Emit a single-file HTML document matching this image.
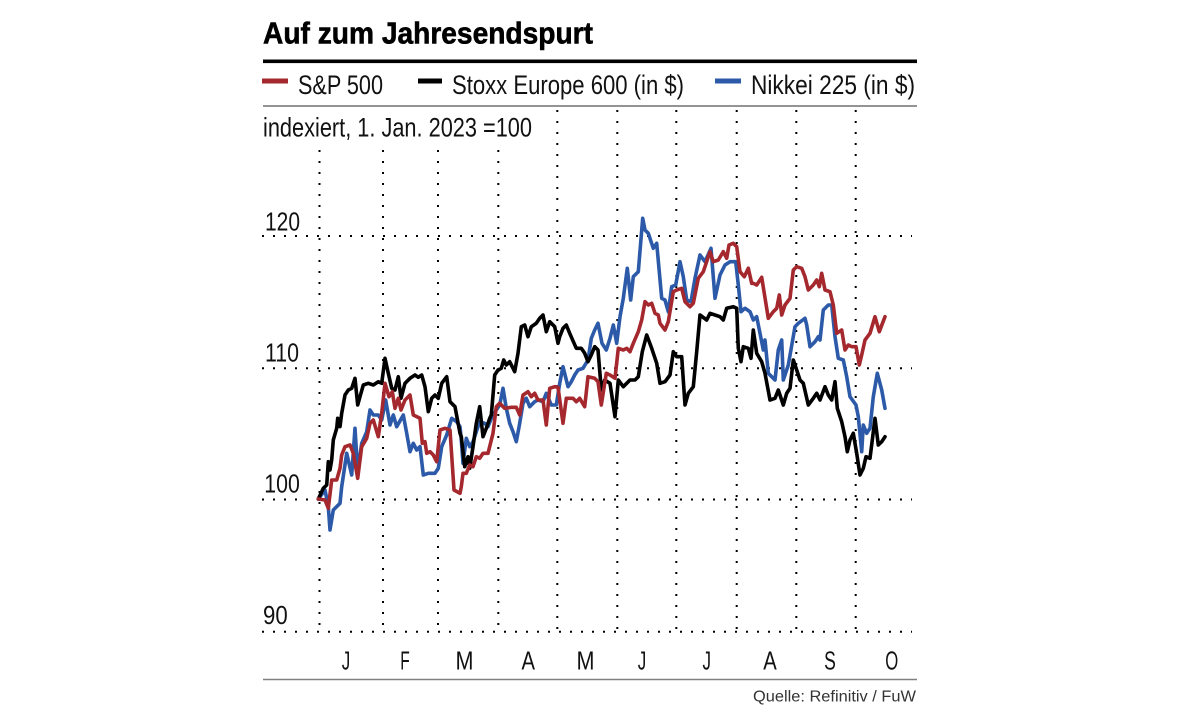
<!DOCTYPE html>
<html>
<head>
<meta charset="utf-8">
<style>
html,body{margin:0;padding:0;background:#fff;}
svg{display:block;}
text{font-family:"Liberation Sans Narrow","Liberation Sans",sans-serif;}
</style>
</head>
<body>
<svg width="1179" height="713" viewBox="0 0 1179 713" xmlns="http://www.w3.org/2000/svg">
<rect width="1179" height="713" fill="#fff"/>
<!-- Title -->
<text x="263" y="43.3" font-size="31" font-weight="bold" fill="#000" stroke="#000" stroke-width="0.6" textLength="330" lengthAdjust="spacingAndGlyphs">Auf zum Jahresendspurt</text>
<rect x="263" y="59.5" width="654" height="3.6" fill="#000"/>
<!-- Legend -->
<rect x="262" y="78.5" width="26" height="5" fill="#a4282e"/>
<text x="298" y="94" font-size="27" fill="#111" textLength="85" lengthAdjust="spacingAndGlyphs">S&amp;P 500</text>
<rect x="418" y="78.5" width="24" height="5" fill="#000"/>
<text x="452" y="94" font-size="27" fill="#111" textLength="232" lengthAdjust="spacingAndGlyphs">Stoxx Europe 600 (in $)</text>
<rect x="715" y="78.5" width="26" height="5" fill="#2c5aa8"/>
<text x="751" y="94" font-size="27" fill="#111" textLength="164" lengthAdjust="spacingAndGlyphs">Nikkei 225 (in $)</text>
<line x1="263" y1="106" x2="917" y2="106" stroke="#555" stroke-width="1.2"/>
<text x="263" y="136.7" font-size="26.5" fill="#111" textLength="269" lengthAdjust="spacingAndGlyphs">indexiert, 1. Jan. 2023 =100</text>

<!-- Grid: vertical dotted -->
<g stroke="#000" stroke-width="2" stroke-dasharray="2 9" fill="none">
<line x1="319.5" y1="150" x2="319.5" y2="632"/>
<line x1="383" y1="150" x2="383" y2="632"/>
<line x1="438" y1="150" x2="438" y2="632"/>
<line x1="498.3" y1="150" x2="498.3" y2="632"/>
<line x1="557.3" y1="110" x2="557.3" y2="632"/>
<line x1="617.3" y1="110" x2="617.3" y2="632"/>
<line x1="676.3" y1="110" x2="676.3" y2="632"/>
<line x1="736.7" y1="110" x2="736.7" y2="632"/>
<line x1="796.3" y1="110" x2="796.3" y2="632"/>
<line x1="855.7" y1="110" x2="855.7" y2="632"/>
</g>
<!-- Grid: horizontal dotted -->
<g stroke="#000" stroke-width="2" stroke-dasharray="2 9" fill="none">
<line x1="262" y1="236" x2="912" y2="236"/>
<line x1="262" y1="368.3" x2="912" y2="368.3"/>
<line x1="262" y1="499.5" x2="912" y2="499.5"/>
<line x1="262" y1="631.7" x2="912" y2="631.7"/>
</g>

<!-- Y labels -->
<g font-size="26" fill="#111">
<text x="265" y="230.7" textLength="35" lengthAdjust="spacingAndGlyphs">120</text>
<text x="265" y="361.7" textLength="34" lengthAdjust="spacingAndGlyphs">110</text>
<text x="264.3" y="492.7" textLength="35.5" lengthAdjust="spacingAndGlyphs">100</text>
<text x="263" y="624" textLength="24.7" lengthAdjust="spacingAndGlyphs">90</text>
</g>

<!-- Series -->
<g fill="none" stroke-width="3.6" stroke-linejoin="round" stroke-linecap="round">
<polyline stroke="#2c5aa8" points="318.3,499 325,490 328.3,506.7 330,530 333.3,510 340,503.3 341.7,486.7 346.7,453.3 351.7,475 355,428.3 357.7,471.7 361.7,443.3 366.7,431.7 370,410 373.3,415 378.3,415 381.7,420 385.7,400 390,425 393.3,415 396.7,426.7 403.3,415 406.7,433.3 410,451.7 413.3,443.3 416.7,450 420,446.7 423.3,475 428.3,473.3 435,473.3 438.3,468.3 441.7,446.7 446.7,435 451.7,418.3 456.7,421.7 460,426.7 461.3,440 463,463.3 466.3,438.3 469.7,446.7 473,441.7 479.7,421.7 484.7,423.3 488,426.7 491.3,418.3 496.3,410 499.7,405 503,388.3 506.3,408.3 509.7,423.3 513,431.7 516.3,441.7 519.7,423.3 523,403.3 526.3,398.3 529.7,406.7 534.7,401.7 538,400 543,401.7 546.3,393.3 551.3,405 556.3,405 559.7,383.3 563,366.7 568,386.7 571.3,381.7 574.7,375 578,370 583,368.3 588,360 591.3,338.3 594.7,330 598,323.3 602,343.3 606.3,350 610,338.3 613.3,325 616.7,343.3 620,316.7 623.3,298.3 627.3,268.3 630.7,300 633.3,276.7 638.3,271.7 642.7,218.3 645,230 648.3,233.3 653.3,248.3 656.7,243.3 661.7,298.3 665,300 668.3,311.7 671.7,286.7 675.7,285 680,261.7 683.3,276.7 686.7,300 691,301.7 695,278.3 700,255 705,261.7 711,248.3 715,298.3 720,275 725,265 730,261.7 735.7,261.7 738.3,285 741,311.7 745,308.3 750,311.7 753.3,320 756.7,316.7 760,333.3 763.3,350 765,340 768.3,373.3 775,380 778.3,350 781.7,340 783.3,380 788.3,365 795,326.7 798.3,323.3 805,318.3 806.7,325 810,346.7 815,341.7 818.3,336.7 820,340 823.3,310 828.3,305 831.7,305 835,336.7 838.3,358.3 843.3,360 846.7,376.7 850,396.7 856,405 858.3,416.7 861.7,451.7 863.3,425 866.7,433.3 870,428.3 873.3,396.7 877.3,373.3 881.7,390 885,408.3"/>
<polyline stroke="#000" points="318.3,499 323.3,488.3 326.7,485 328.3,461.7 330,470 331.7,460 333.3,440 336.7,428.3 337.7,418.3 340,426.7 341.7,413.3 345,395 348.3,390 351.7,388.3 355,378.3 357.7,405 360,396.7 363.3,385 368.3,383.3 373.3,385 378.3,381.7 381.7,383.3 385,358.3 388.3,373.3 391.7,388.3 395,390 398.3,376.7 401,398.3 405,383.3 410,378.3 415,375 418.3,377.3 421.7,375 425,386.7 428.3,411.7 431.7,398.3 435,395 438.3,398.3 441.7,383.3 446.7,376.7 450,401.7 455,406.7 460,433.3 461.3,436.7 464.7,466.7 468,456.7 469.7,468.3 473,446.7 476.3,423.3 479.7,406.7 483,436.7 486.3,428.3 489.7,418.3 491.3,415 494.7,375 498,370 501.3,368.3 503.7,360 506.3,365 509.7,361.7 514.7,371.7 518,353.3 521.3,326.7 524.7,325 528,336.7 531.3,326.7 536.3,323.3 539.7,318.3 543,315 546.3,331.7 549.7,321.7 554.7,326.7 558,343.3 559.7,336.7 563,328.3 566.3,325 569.7,333.3 576.3,348.3 581.3,348.3 584.7,353.3 588,361.7 591.3,355 594.7,346.7 598,350 601.3,390 604.7,380 610,383.3 615,416.7 618.3,380 623.3,386.7 630,380 635,380 638.3,376.7 642.3,351.7 646.7,335 651.7,348.3 656.7,363.3 660,383.3 665,381.7 670,375 673.3,351.7 676.7,356.7 681.7,356.7 685,405 688.3,393.3 693.3,386.7 696.7,351.7 700,315 706.7,320 710,313.3 715,315 720,316.7 723.3,320 726.7,308.3 733.3,306.7 736.7,308.3 738.3,348.3 741,361.7 743.3,346.7 748.3,348.3 751,358.3 753.3,330 756.7,353.3 761.7,361.7 765,373.3 770,400 775,398.3 778.3,390 783.3,405 786.7,393.3 790,388.3 793.3,360 796.7,370 800,380 803.3,383.3 808.3,405 813.3,398.3 816.7,393.3 820,400 825,386.7 828.3,395 831.7,400 835,381.7 837.3,408.3 841.7,421.7 845,436.7 847.3,451.7 850,440 853.3,433.3 856.7,453.3 860,475 863.3,468.3 866,456.7 870,458.3 875,418.3 878.3,445 881.7,441.7 885,436.7"/>
<polyline stroke="#a4282e" points="318.3,499 325,500 328.3,508.3 331.7,480 336.7,480 340,468.3 341.7,455 345,446.7 350,445 353.3,453.3 357.7,478.3 361.7,446.7 366.7,438.3 370,423.3 373.3,420 378.3,436.7 381.7,413.3 385,383.3 389,396.7 392.3,391.7 395,408.3 398.3,398.3 401,410 405,400 410,395 413.3,415 420,418.3 422.3,443.3 425,441.7 426.7,453.3 430,451.7 433.3,455 436.7,461.7 440,430 445,428.3 450,430 454,490 460,493.3 461.3,486.7 463,473.3 466.3,473.3 469.7,465 473,466.7 476.3,456.7 479.7,458.3 483,453.3 488,453.3 493,433.3 496.3,406.7 499.7,403.3 504.7,408.3 511.3,407.3 516.3,407.3 519.7,415 523,395 528,391.7 531.3,396.7 534.7,393.3 538,400 543,400 546.3,425 549.7,388.3 554.7,386.7 558,387.3 563,423.3 566.3,398.3 573,398.3 576.3,401.7 579.7,398.3 584.7,406.7 588,376.7 594.7,378.3 598,381.7 601.3,405 606.3,373.3 610,375 615,378.3 618.3,348.3 623.3,350 626.7,348.3 630,351.7 633.3,343.3 638.3,331.7 641.7,320 645,301.7 648.3,305 651.7,303.3 655,313.3 658.3,315 660,323.3 665,330 668.3,321.7 673.3,291.7 676.7,290 681.7,288.3 685,301.7 690,306.7 693.3,303.3 698.3,278.3 703.3,271.7 710,251.7 713.3,261.7 718.3,260 723.3,251.7 726.7,258.3 729,245 733.3,243.3 736.7,246.7 740,271.7 744.3,276.7 748.3,268.3 751.7,283.3 753.3,283.3 756.7,285 761.7,277.3 768.3,318.3 773.3,311.7 776.7,308.3 779.3,295 781.7,315 785,305 790,298.3 793.3,270 796.7,266.7 801.7,268.3 805,276.7 808.3,290 813.3,285 816.7,280 819.3,286.7 821.7,273.3 825,290 830,291.7 833.3,305 836.7,333.3 841.7,330 845,350 848.3,345 851.7,346.7 856,346.7 859.3,365 861.7,355 865,340 870,333.3 875,316.7 879.3,331.7 885,316.7"/>
</g>

<!-- Month labels -->
<g font-size="26" fill="#111" text-anchor="middle">
<text x="346" y="669.3" textLength="8.5" lengthAdjust="spacingAndGlyphs">J</text>
<text x="405" y="669.3" textLength="9.5" lengthAdjust="spacingAndGlyphs">F</text>
<text x="464.5" y="669.3" textLength="18" lengthAdjust="spacingAndGlyphs">M</text>
<text x="528.3" y="669.3" textLength="13.5" lengthAdjust="spacingAndGlyphs">A</text>
<text x="585.5" y="669.3" textLength="18" lengthAdjust="spacingAndGlyphs">M</text>
<text x="642" y="669.3" textLength="8.5" lengthAdjust="spacingAndGlyphs">J</text>
<text x="706.7" y="669.3" textLength="8.5" lengthAdjust="spacingAndGlyphs">J</text>
<text x="770" y="669.3" textLength="13.5" lengthAdjust="spacingAndGlyphs">A</text>
<text x="830" y="669.3" textLength="11.7" lengthAdjust="spacingAndGlyphs">S</text>
<text x="891.7" y="669.3" textLength="13" lengthAdjust="spacingAndGlyphs">O</text>
</g>

<line x1="263" y1="679.5" x2="917" y2="679.5" stroke="#808080" stroke-width="1.5"/>
<text x="753" y="701.7" font-size="15.5" fill="#333" textLength="163" lengthAdjust="spacingAndGlyphs">Quelle: Refinitiv / FuW</text>
</svg>
</body>
</html>
